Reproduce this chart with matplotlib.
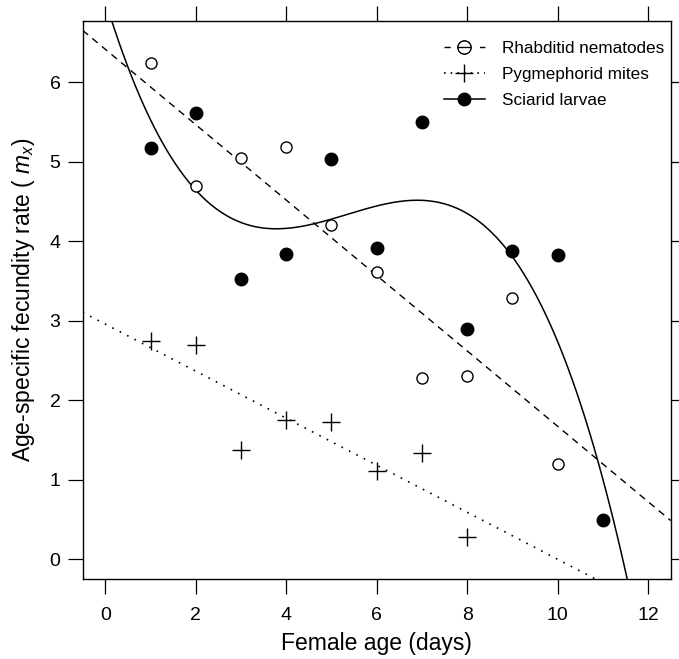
import numpy as np
import matplotlib
matplotlib.use("Agg")
import matplotlib.pyplot as plt
from matplotlib.lines import Line2D

plt.rcParams["font.family"] = ["Liberation Sans", "DejaVu Sans"]
plt.rcParams["mathtext.fontset"] = "custom"
plt.rcParams["mathtext.rm"] = "Liberation Sans"
plt.rcParams["mathtext.it"] = "Liberation Sans:italic"

# ---------- data ----------
rhab_age = [1, 2, 3, 4, 5, 6, 7, 8, 9, 10]
rhab_mx = [6.24, 4.70, 5.05, 5.18, 4.21, 3.61, 2.28, 2.31, 3.29, 1.20]

pyg_age = [1, 2, 3, 4, 5, 6, 7, 8]
pyg_mx = [2.75, 2.69, 1.37, 1.75, 1.73, 1.11, 1.34, 0.28]

sci_age = [1, 2, 3, 4, 5, 6, 7, 8, 9, 10, 11]
sci_mx = [5.17, 5.61, 3.53, 3.84, 5.04, 3.92, 5.50, 2.90, 3.88, 3.83, 0.49]

xticks = [0, 2, 4, 6, 8, 10, 12]
yticks = [0, 1, 2, 3, 4, 5, 6]

# ---------- fits (linear, linear, cubic) ----------
xx = np.linspace(-0.5, 12.5, 400)
rhab_fit = np.polyval(np.polyfit(rhab_age, rhab_mx, 1), xx)
pyg_fit = np.polyval(np.polyfit(pyg_age, pyg_mx, 1), xx)
sci_fit = np.polyval(np.polyfit(sci_age, sci_mx, 3), xx)

# ---------- plot ----------
fig = plt.figure(figsize=(6.79, 6.59), dpi=100)
ax = fig.add_axes([0.1218, 0.1210, 0.866, 0.8471])

ax.plot(xx, rhab_fit, color="black", lw=1, ls=(0, (5, 4)))
ax.plot(xx, pyg_fit, color="black", lw=1.2, ls=(0, (1, 4)))
ax.plot(xx, sci_fit, color="black", lw=1.1)

ax.plot(rhab_age, rhab_mx, "o", mfc="white", mec="black", ms=8, mew=1)
ax.plot(pyg_age, pyg_mx, "+", color="black", ms=13, mew=1)
ax.plot(sci_age, sci_mx, "o", color="black", ms=9)

ax.set_xlim(-0.5, 12.5)
ax.set_ylim(-0.25, 6.77)
ax.set_xticks(xticks)
ax.set_yticks(yticks)
ax.tick_params(direction="out", length=11, width=0.9, labelsize=14,
               top=True, right=True)
ax.tick_params(axis="x", pad=9)
ax.tick_params(axis="y", pad=5)
for s in ax.spines.values():
    s.set_linewidth(1)

ax.set_xlabel("Female age (days)", fontsize=16.5, labelpad=6)
ax.set_ylabel(r"Age-specific fecundity rate ( $\mathit{m_x}$)", fontsize=16.5,
              labelpad=9)

# ---------- legend ----------
handles = [
    Line2D([], [], color="black", ls=(0, (4.5, 21)), lw=1, marker=r"$\ominus$",
           ms=10, mew=0.5),
    Line2D([], [], color="black", ls=(0, (1, 3)), lw=1.2, marker="+", ms=13),
    Line2D([], [], color="black", lw=1.1, marker="o", ms=9),
]
labels = ["Rhabditid nematodes", "Pygmephorid mites", "Sciarid larvae"]
ax.legend(handles, labels, loc="upper right", bbox_to_anchor=(1.0, 0.977),
          frameon=False, fontsize=12.3, handlelength=2.4, handletextpad=1.0,
          labelspacing=0.65, borderaxespad=0)

fig.savefig("out.png", dpi=100)
